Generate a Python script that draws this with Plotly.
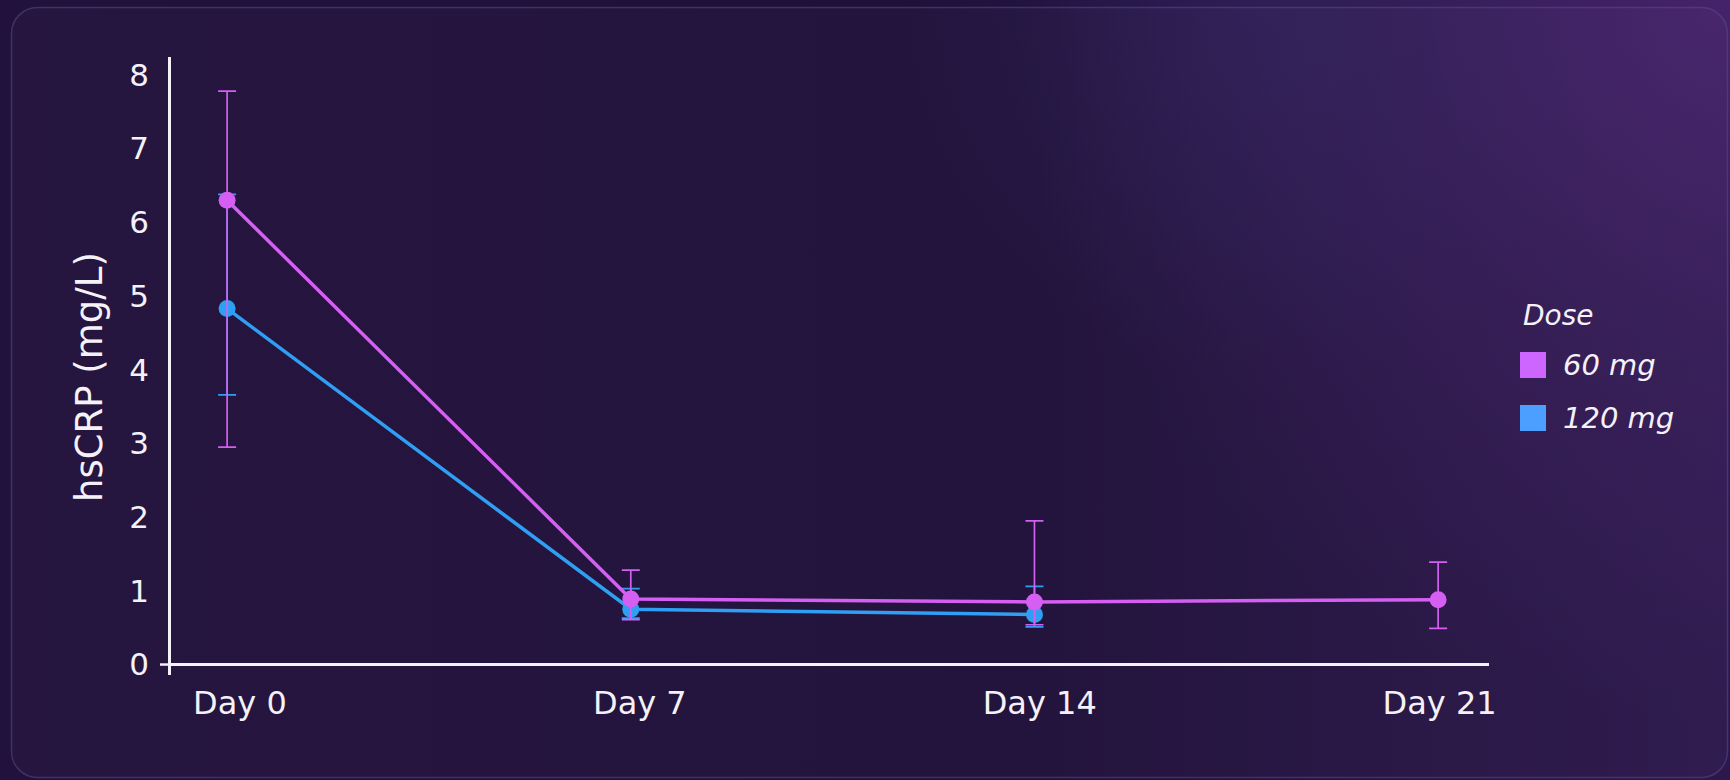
import base64
import plotly.graph_objects as go

# ---------------- data ----------------
days = ["Day 0", "Day 7", "Day 14", "Day 21"]
dose_labels = ["60 mg", "120 mg"]

mean_60 = [6.30, 0.89, 0.85, 0.88]
upper_60 = [7.78, 1.28, 1.95, 1.39]
lower_60 = [2.95, 0.61, 0.54, 0.49]

mean_120 = [4.83, 0.75, 0.68, None]
upper_120 = [6.38, 1.03, 1.06, None]
lower_120 = [3.66, 0.63, 0.51, None]

y_ticks = [0, 1, 2, 3, 4, 5, 6, 7, 8]
y_title = "hsCRP (mg/L)"
legend_title = "Dose"

# ---------------- style ----------------
W, H = 1730, 780
ML, MR, MT, MB = 171, 241, 57, 105
PW, PH = W - ML - MR, H - MT - MB
FONT = "DejaVu Sans"
TXT = "#f4f1f8"
C60, C120 = "#d45ff2", "#2f9ff4"
LEG60, LEG120 = "#cc66ff", "#4d9fff"


def px(x):
    return (x - ML) / PW


def py(y):
    return (H - MB - y) / PH


def plus(a, b):
    return [None if (u is None or v is None) else round(u - v, 3) for u, v in zip(a, b)]


svg = f'''<svg xmlns="http://www.w3.org/2000/svg" width="{W}" height="{H}" viewBox="0 0 {W} {H}">
<defs>
<linearGradient id="lg" x1="0" y1="0" x2="1" y2="0">
<stop offset="0" stop-color="#21113c"/>
<stop offset="0.6" stop-color="#1f103a"/>
<stop offset="1" stop-color="#2c184c"/>
</linearGradient>
<radialGradient id="rg" cx="{W}" cy="0" r="720" gradientUnits="userSpaceOnUse">
<stop offset="0" stop-color="#4a2570" stop-opacity="0.85"/>
<stop offset="0.5" stop-color="#4a2570" stop-opacity="0.3"/>
<stop offset="1" stop-color="#4a2570" stop-opacity="0"/>
</radialGradient>
<radialGradient id="rg2" cx="1280" cy="0" r="380" gradientUnits="userSpaceOnUse">
<stop offset="0" stop-color="#2c2a66" stop-opacity="0.4"/>
<stop offset="1" stop-color="#2c2a66" stop-opacity="0"/>
</radialGradient>
</defs>
<rect width="{W}" height="{H}" fill="url(#lg)"/>
<rect width="{W}" height="{H}" fill="url(#rg2)"/>
<rect width="{W}" height="{H}" fill="url(#rg)"/>
<rect x="11.5" y="7.5" width="1716" height="770" rx="26" fill="#ffffff" fill-opacity="0.018" stroke="#5a4a8a" stroke-opacity="0.55" stroke-width="1.5"/>
</svg>'''
bg_uri = "data:image/svg+xml;base64," + base64.b64encode(svg.encode()).decode()

fig = go.Figure()

fig.add_trace(go.Scatter(
    x=days, y=mean_120, name=dose_labels[1], mode="lines+markers",
    line=dict(color=C120, width=3.5), marker=dict(color=C120, size=17),
    error_y=dict(type="data", symmetric=False,
                 array=plus(upper_120, mean_120), arrayminus=plus(mean_120, lower_120),
                 color=C120, thickness=1.7, width=9),
    connectgaps=False, showlegend=False,
))
fig.add_trace(go.Scatter(
    x=days, y=mean_60, name=dose_labels[0], mode="lines+markers",
    line=dict(color=C60, width=3.5), marker=dict(color=C60, size=17),
    error_y=dict(type="data", symmetric=False,
                 array=plus(upper_60, mean_60), arrayminus=plus(mean_60, lower_60),
                 color=C60, thickness=1.7, width=9),
    showlegend=False,
))
# category labels axis (labels sit on a slightly narrower band than the points)
fig.add_trace(go.Scatter(x=days, y=[None] * len(days), xaxis="x2", mode="markers",
                         showlegend=False, hoverinfo="skip"))

# manual legend (large square swatches)
shapes = []
annotations = []
legend_items = [(dose_labels[0], LEG60, 365), (dose_labels[1], LEG120, 418)]
for label, col, cy in legend_items:
    shapes.append(dict(type="rect", xref="paper", yref="paper",
                       x0=px(1520), x1=px(1546), y0=py(cy - 13), y1=py(cy + 13),
                       fillcolor=col, line=dict(width=0), layer="above"))
    annotations.append(dict(text=label, xref="paper", yref="paper", x=px(1561), y=py(cy),
                            xanchor="left", yanchor="middle", showarrow=False,
                            font=dict(family=FONT, size=29, color=TXT, style="italic")))
annotations.append(dict(text=legend_title, xref="paper", yref="paper", x=px(1521), y=py(315),
                        xanchor="left", yanchor="middle", showarrow=False,
                        font=dict(family=FONT, size=28, color=TXT, style="italic")))
# y-axis title
annotations.append(dict(text=y_title, xref="paper", yref="paper", x=px(89), y=py(377),
                        xanchor="center", yanchor="middle", textangle=-90, showarrow=False,
                        font=dict(family=FONT, size=37, color=TXT)))

# small stub of the axis cross at y=0, left of the y-axis line
shapes.append(dict(type="line", xref="paper", yref="y", xsizemode="pixel", xanchor=0,
                   x0=-11, x1=0, y0=0, y1=0, line=dict(color=TXT, width=2.5)))

fig.update_layout(
    width=W, height=H, autosize=False,
    margin=dict(l=ML, r=MR, t=MT, b=MB, pad=0),
    paper_bgcolor="#1f1039", plot_bgcolor="rgba(0,0,0,0)",
    font=dict(family=FONT, color=TXT),
    showlegend=False,
    images=[dict(source=bg_uri, xref="paper", yref="paper",
                 x=-ML / PW, y=1 + MT / PH, sizex=W / PW, sizey=H / PH,
                 xanchor="left", yanchor="top", sizing="stretch", layer="below")],
    shapes=shapes, annotations=annotations,
    xaxis=dict(type="category", categoryorder="array", categoryarray=days,
               range=[-0.139, 3.126], showgrid=False, zeroline=False, showline=False,
               ticks="", showticklabels=False, fixedrange=True),
    xaxis2=dict(type="category", categoryorder="array", categoryarray=days,
                overlaying="x", anchor="y", side="bottom",
                range=[-0.1725, 3.1235], showgrid=False, zeroline=False, showline=False,
                ticks="", tickfont=dict(family=FONT, size=32, color=TXT),
                ticklabelstandoff=6, fixedrange=True),
    yaxis=dict(range=[-0.142, 8.243], tickvals=y_ticks, showgrid=False,
               showline=True, linecolor=TXT, linewidth=2.5,
               zeroline=True, zerolinecolor=TXT, zerolinewidth=2.5,
               ticks="", tickfont=dict(family=FONT, size=31, color=TXT),
               ticklabelstandoff=13, fixedrange=True),
)

fig.write_html("out.html", config={"displayModeBar": False},
               post_script="document.body.style.margin='0';document.body.style.overflow='hidden';")
